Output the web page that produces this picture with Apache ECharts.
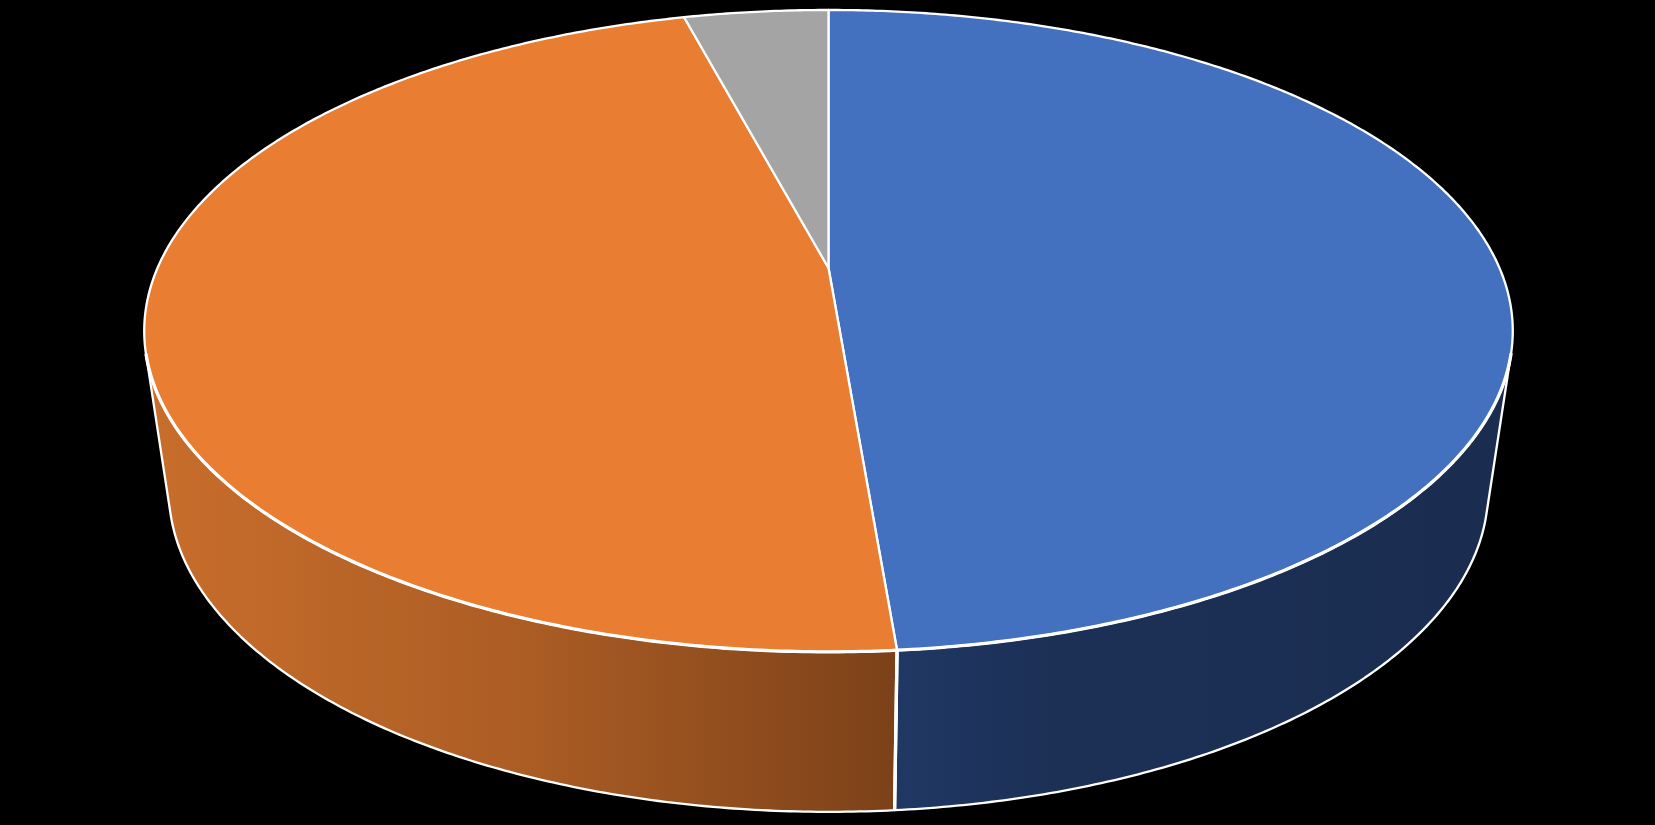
<!DOCTYPE html>
<html>
<head>
<meta charset="utf-8">
<title>pie</title>
<script src="https://cdn.jsdelivr.net/npm/echarts@6/dist/echarts.min.js"></script>
<style>
  html,body{margin:0;padding:0;background:#000;}
  #main{width:1655px;height:825px;}
</style>
</head>
<body>
<div id="main"></div>
<script>
// values, the chart has no labels or legend
var categories = ['A', 'B', 'C'];
var sliceValues = [48.69, 47.19, 4.12];
var topColors = ['#4371BF', '#E97D31', '#A4A4A4'];
// side wall shading, left to right
var wallColors = [
  [[0, '#203864'], [0.25, '#1c3056'], [1, '#1a2d50']],
  [[0, '#c96e2c'], [0.5, '#ac5d24'], [1, '#7c4119']],
  [[0, '#636363'], [1, '#636363']]
];

// perspective view of the disk
var apexX = 828.5, apexY = 268;
var persp = 0.196, scaleU = 671, scaleV = 308.6;
// the lower rim is the upper rim pulled in and moved down
var lowerScaleX = 0.964, wallDepth = 160;

function rim(deg) {
  var t = deg * Math.PI / 180;
  var w = 1 + persp * Math.cos(t);
  return [apexX + scaleU * Math.sin(t) / w, apexY - scaleV * Math.cos(t) / w];
}
function lower(p) {
  return [apexX + lowerScaleX * (p[0] - apexX), p[1] + wallDepth];
}
function arc(from, to) {
  var pts = [];
  var n = Math.max(1, Math.ceil(Math.abs(to - from) * 2));
  for (var i = 0; i <= n; i++) pts.push(rim(from + (to - from) * i / n));
  return pts;
}
// negative while the wall under this rim point faces the viewer
function facing(deg) {
  var p = rim(deg), q = rim(deg + 0.1), e = lower(p);
  return (q[0] - p[0]) * (e[1] - p[1]) - (q[1] - p[1]) * (e[0] - p[0]);
}

var wallFrom = 180, wallTo = 180;
while (facing(wallFrom) < 0) wallFrom -= 0.1;
while (facing(wallTo) < 0) wallTo += 0.1;

var total = sliceValues.reduce(function (a, b) { return a + b; }, 0);

function renderSlice(params, api) {
  var i = params.dataIndex;
  var before = 0;
  for (var k = 0; k < i; k++) before += sliceValues[k];
  var start = before / total * 360;
  var end = start + api.value(1) / total * 360;
  var thin = { stroke: '#fff', lineWidth: 2.3, lineJoin: 'round' };
  var thick = { stroke: '#fff', lineWidth: 3.3, lineJoin: 'round', fill: 'none' };
  var children = [];

  var a = Math.max(start, wallFrom), b = Math.min(end, wallTo);
  if (b > a) {
    var upper = arc(a, b);
    var low = upper.map(lower).reverse();
    children.push({
      type: 'polygon',
      z2: 1,
      shape: { points: upper.concat(low) },
      style: Object.assign({
        fill: new echarts.graphic.LinearGradient(0, 0, 1, 0, wallColors[i].map(function (c) {
          return { offset: c[0], color: c[1] };
        }))
      }, thin)
    });
    // slice boundary on the wall
    [[a, start], [b, end]].forEach(function (e) {
      if (e[0] === e[1]) {
        var p = rim(e[0]);
        children.push({ type: 'polyline', z2: 2, shape: { points: [p, lower(p)] }, style: thick });
      }
    });
  }
  children.push({
    type: 'polygon',
    z2: 3,
    shape: { points: [[apexX, apexY]].concat(arc(start, end)) },
    style: Object.assign({ fill: topColors[i] }, thin)
  });
  // near edge of the top face is drawn heavier
  if (b > a) {
    children.push({ type: 'polyline', z2: 4, shape: { points: arc(a, b) }, style: thick });
  }
  return { type: 'group', children: children };
}

var myChart = echarts.init(document.getElementById('main'));
var option = {
  backgroundColor: '#000',
  animation: false,
  tooltip: { show: false },
  series: [{
    type: 'custom',
    coordinateSystem: 'none',
    renderItem: renderSlice,
    silent: true,
    data: categories.map(function (c, i) { return [c, sliceValues[i]]; })
  }]
};
myChart.setOption(option);
</script>
</body>
</html>
